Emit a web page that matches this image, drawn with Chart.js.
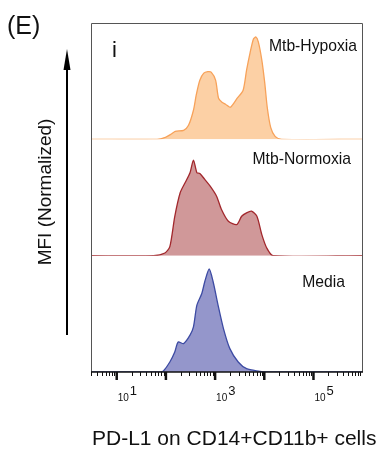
<!DOCTYPE html>
<html>
<head>
<meta charset="utf-8">
<script src="https://cdn.jsdelivr.net/npm/chart.js@4"></script>
<style>
  html, body { margin: 0; padding: 0; background: #fff; }
  #wrap { width: 383px; height: 453px; position: relative; }
</style>
</head>
<body>
<div id="wrap"><canvas id="pdl1Chart"></canvas></div>
<script>
'use strict';

// Histogram outlines: log10 of PD-L1 intensity and normalized cell count
const hypoxiaLog = [0.48, 1.82, 1.99, 2.10, 2.19, 2.36, 2.46, 2.56, 2.62, 2.69, 2.77, 2.85, 2.92, 3.01, 3.07, 3.14,
  3.21, 3.31, 3.45, 3.57, 3.64, 3.71, 3.78, 3.83, 3.88, 3.95, 4.01, 4.06, 4.13, 4.22, 4.35, 5.99];
const hypoxiaCount = [0, 0, 2, 5, 8, 9, 14, 29, 45, 59, 66, 67.5, 67, 59, 41, 37,
  35, 32, 41, 49, 69, 86, 100, 102, 97, 79, 56, 32, 12, 3, 0, 0];

const normoxiaLog = [0.48, 1.75, 1.98, 2.08, 2.18, 2.29, 2.39, 2.49, 2.56, 2.63, 2.69, 2.79, 2.90, 3.03, 3.13,
  3.27, 3.44, 3.54, 3.64, 3.74, 3.85, 3.95, 4.05, 4.18, 5.99];
const normoxiaCount = [0, 0, 2.7, 9, 39, 62.7, 72.7, 82.7, 95.3, 82.7, 82, 76, 69.3, 59.3, 46,
  34.3, 31, 39.3, 42.7, 44.3, 39.3, 21, 7.7, 0, 0];

const mediaLog = [0.48, 1.90, 1.95, 2.08, 2.18, 2.25, 2.36, 2.49, 2.56, 2.63, 2.73, 2.79, 2.88, 2.96, 3.06,
  3.17, 3.30, 3.47, 3.64, 3.91, 4.01, 5.99];
const mediaCount = [0, 0, 1, 10, 20, 30, 28.3, 36.7, 45, 66.7, 78.3, 90, 102.7, 90, 66.7,
  43.3, 23.3, 10, 3.3, 0.7, 0, 0];

const panelNames = ['Mtb-Hypoxia', 'Mtb-Normoxia', 'Media'];

// x axis ticks
const decadeTicks = [1e1, 1e2, 1e3, 1e4, 1e5];
const minorSteps = [2, 3, 4, 5, 6, 7, 8, 9];
const minorDecades = [1, 10, 100, 1000, 10000, 100000];
const labelledExponents = [1, 3, 5];

const xMin = 3;
const xMax = 970000;

function toPoints(logs, counts) {
  return logs.map((l, i) => ({ x: Math.pow(10, l), y: counts[i] }));
}

function histDataset(label, logs, counts, axis, line, fill) {
  return {
    label: label,
    data: toPoints(logs, counts),
    yAxisID: axis,
    borderColor: line,
    backgroundColor: fill,
    borderWidth: 1.3,
    pointRadius: 0,
    tension: 0.25,
    fill: 'origin'
  };
}

const panelAxis = {
  type: 'linear',
  display: false,
  stack: 'panels',
  stackWeight: 1,
  min: 0,
  max: 116
};

// frame, log ticks and all the text around the plot
const decorations = {
  id: 'decorations',
  afterDraw(chart) {
    const ctx = chart.ctx;
    const area = chart.chartArea;
    const x = chart.scales.x;
    ctx.save();

    // frame
    ctx.strokeStyle = '#555';
    ctx.lineWidth = 1;
    ctx.beginPath();
    ctx.moveTo(area.left + 0.5, area.bottom);
    ctx.lineTo(area.left + 0.5, area.top + 0.5);
    ctx.lineTo(area.right + 0.5, area.top + 0.5);
    ctx.lineTo(area.right + 0.5, area.bottom);
    ctx.stroke();

    // axis line
    ctx.strokeStyle = '#111';
    ctx.lineWidth = 1.5;
    ctx.beginPath();
    ctx.moveTo(area.left, area.bottom);
    ctx.lineTo(area.right + 1, area.bottom);
    ctx.stroke();

    // minor ticks
    ctx.lineWidth = 1;
    minorDecades.forEach(d => {
      minorSteps.forEach(s => {
        const v = d * s;
        if (v < xMin || v > xMax) return;
        const px = Math.round(x.getPixelForValue(v)) + 0.5;
        ctx.beginPath();
        ctx.moveTo(px, area.bottom);
        ctx.lineTo(px, area.bottom + 4);
        ctx.stroke();
      });
    });

    // major ticks
    ctx.lineWidth = 2.5;
    decadeTicks.forEach(v => {
      const px = x.getPixelForValue(v);
      ctx.beginPath();
      ctx.moveTo(px, area.bottom);
      ctx.lineTo(px, area.bottom + 8);
      ctx.stroke();
    });

    // tick labels 10^n
    ctx.fillStyle = '#111';
    ctx.textBaseline = 'alphabetic';
    ctx.textAlign = 'left';
    labelledExponents.forEach(e => {
      const px = x.getPixelForValue(Math.pow(10, e));
      ctx.font = '10px "Liberation Sans", Arial, sans-serif';
      ctx.fillText('10', px + 1, 401);
      const w = ctx.measureText('10').width;
      ctx.font = '13px "Liberation Sans", Arial, sans-serif';
      ctx.fillText(String(e), px + w + 2, 395);
    });

    // panel names
    ctx.font = '15.7px "Liberation Sans", Arial, sans-serif';
    ctx.textAlign = 'right';
    ctx.fillText(panelNames[0], 357, 51);
    ctx.fillText(panelNames[1], 351, 164);
    ctx.fillText(panelNames[2], 345, 287);

    // sub-panel letter and figure letter
    ctx.textAlign = 'left';
    ctx.font = '22px "Liberation Sans", Arial, sans-serif';
    ctx.fillText('i', 112, 57);
    ctx.font = '25px "Liberation Sans", Arial, sans-serif';
    ctx.fillText('(E)', 7, 34);

    // x title
    ctx.font = '21px "Liberation Sans", Arial, sans-serif';
    ctx.fillText('PD-L1 on CD14+CD11b+ cells', 92, 445);

    // y title with arrow
    ctx.save();
    ctx.translate(51, 192);
    ctx.rotate(-Math.PI / 2);
    ctx.textAlign = 'center';
    ctx.font = '19px "Liberation Sans", Arial, sans-serif';
    ctx.fillText('MFI (Normalized)', 0, 0);
    ctx.restore();

    ctx.strokeStyle = '#000';
    ctx.lineWidth = 2;
    ctx.beginPath();
    ctx.moveTo(67, 335);
    ctx.lineTo(67, 62);
    ctx.stroke();
    ctx.fillStyle = '#000';
    ctx.beginPath();
    ctx.moveTo(67, 49);
    ctx.lineTo(70.5, 70);
    ctx.lineTo(63.5, 70);
    ctx.closePath();
    ctx.fill();

    ctx.restore();
  }
};

new Chart(document.getElementById('pdl1Chart'), {
  type: 'line',
  data: {
    datasets: [
      histDataset(panelNames[0], hypoxiaLog, hypoxiaCount, 'yHypoxia', '#f7a25a', 'rgba(252, 205, 160, 0.95)'),
      histDataset(panelNames[1], normoxiaLog, normoxiaCount, 'yNormoxia', '#a2282d', 'rgba(205, 146, 148, 0.95)'),
      histDataset(panelNames[2], mediaLog, mediaCount, 'yMedia', '#3d4ba3', 'rgba(142, 144, 200, 0.95)')
    ]
  },
  options: {
    responsive: true,
    maintainAspectRatio: false,
    animation: false,
    layout: { padding: { left: 91, top: 23, right: 21, bottom: 81 } },
    plugins: {
      legend: { display: false },
      tooltip: { enabled: false }
    },
    scales: {
      x: {
        type: 'logarithmic',
        display: false,
        min: xMin,
        max: xMax
      },
      // stacked panels are laid out bottom-up in this order
      yMedia: Object.assign({}, panelAxis),
      yNormoxia: Object.assign({}, panelAxis),
      yHypoxia: Object.assign({}, panelAxis)
    }
  },
  plugins: [decorations]
});
</script>
</body>
</html>
